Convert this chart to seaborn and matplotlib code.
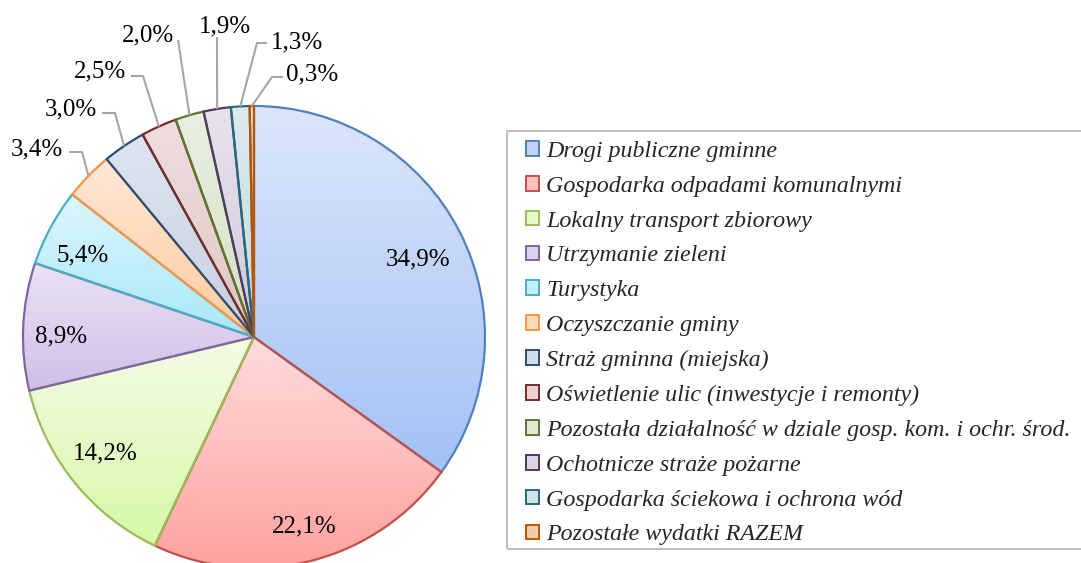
import numpy as np
import matplotlib
matplotlib.use("Agg")
import matplotlib.pyplot as plt
import seaborn as sns
from matplotlib.patches import Rectangle, Patch
from matplotlib.colors import to_rgb

# ---------------- data ----------------
categories = [
    "Drogi publiczne gminne",
    "Gospodarka odpadami komunalnymi",
    "Lokalny transport zbiorowy",
    "Utrzymanie zieleni",
    "Turystyka",
    "Oczyszczanie gminy",
    "Straż gminna (miejska)",
    "Oświetlenie ulic (inwestycje i remonty)",
    "Pozostała działalność w dziale gosp. kom. i ochr. środ.",
    "Ochotnicze straże pożarne",
    "Gospodarka ściekowa i ochrona wód",
    "Pozostałe wydatki RAZEM",
]
shares = [34.9, 22.1, 14.2, 8.9, 5.4, 3.4, 3.0, 2.5, 2.0, 1.9, 1.3, 0.3]

# ---------------- style ----------------
edge_colors = ["#4F81BD", "#C0504D", "#9BBB59", "#8064A2", "#4BACC6", "#F79646",
               "#2C4D75", "#772C2A", "#5F7530", "#4D3B62", "#276A7C", "#B65708"]
fill_top = ["#DCE6FB", "#FFDCDC", "#F4FCE6", "#EAE2F4", "#DDF6FC", "#FFE8D6",
            "#DFE5EF", "#EFDEDE", "#E9EFE1", "#E7E2EC", "#DCEAEE", "#F8DCC6"]
fill_bot = ["#A3C1F5", "#FFA19E", "#D6F8A6", "#D0BEE8", "#A6E8F9", "#FFCB9E",
            "#C6D0E1", "#E0C5C5", "#D3E1C3", "#D1C9DD", "#C2DBE2", "#EFBC95"]

sns.set_theme(style="white")
plt.rcParams['font.family'] = ['Liberation Serif', 'DejaVu Serif']

W, H = 1081, 563
fig = plt.figure(figsize=(W / 100, H / 100), dpi=100)
fig.patch.set_facecolor("white")
ax = fig.add_axes([0, 0, 1, 1])

cx, cy, R = 254, H - 337, 231

wedges, _ = ax.pie(shares, startangle=90, counterclock=False, center=(cx, cy),
                   radius=R, colors=["none"] * len(shares), frame=True,
                   wedgeprops=dict(linewidth=1.6))

g = np.linspace(0, 1, 256)[:, None, None]
for w, ec, top, bot in zip(wedges, edge_colors, fill_top, fill_bot):
    w.set_edgecolor(ec)
    w.set_zorder(3)
    ext = w.get_path().get_extents()
    arr = np.array(to_rgb(top))[None, None, :] * (1 - g) + np.array(to_rgb(bot))[None, None, :] * g
    im = ax.imshow(arr, extent=(ext.x0, ext.x1, ext.y0, ext.y1), origin="upper",
                   aspect="auto", interpolation="bilinear", zorder=2)
    im.set_clip_path(w)

# ---------------- value labels ----------------
def fmt(v):
    return f"{v:.1f}%".replace(".", ",")

# label centre positions (pixels, y down) -- layout only
label_pos = [(418, 257), (304, 524), (105, 451), (61, 334), (83, 253),
             (37, 147), (71, 107), (100, 69), (148, 33), (225, 24), (297, 40), (312, 72)]
# leader line waypoints for the outside labels (pixels, y down)
leader_pts = {
    5: [(69, 152), (82, 152)],
    6: [(102, 113), (115, 113)],
    7: [(131, 76), (143, 76)],
    8: [(178, 40)],
    9: [(217, 37)],
    10: [(267, 43), (257, 43)],
    11: [(283, 77), (272, 77)],
}

for i, (w, v) in enumerate(zip(wedges, shares)):
    x, y = label_pos[i]
    ax.text(x, H - y - 8.5, fmt(v), ha="center", va="baseline", fontsize=18,
            color="black", zorder=5)
    if i in leader_pts:
        mid = np.deg2rad((w.theta1 + w.theta2) / 2)
        rim = (cx + R * np.cos(mid), cy + R * np.sin(mid))
        pts = [(px, H - py) for px, py in leader_pts[i]] + [rim]
        xs, ys = zip(*pts)
        ax.plot(xs, ys, color="#A6A6A6", lw=1.5, zorder=4, solid_capstyle="butt")

# ---------------- legend ----------------
handles = [Patch(facecolor=tuple((np.array(to_rgb(t)) + np.array(to_rgb(b))) / 2),
                 edgecolor=ec, linewidth=1.4)
           for t, b, ec in zip(fill_top, fill_bot, edge_colors)]
leg = ax.legend(handles, categories, loc="upper left", bbox_to_anchor=(526, H - 141),
                bbox_transform=ax.transData, frameon=False, borderpad=0, borderaxespad=0,
                prop=dict(family=['Liberation Serif', 'DejaVu Serif'], style="italic", size=17.3),
                handlelength=0.56, handleheight=0.56, handletextpad=0.29, labelspacing=0.575)

ax.add_patch(Rectangle((507, H - 549), 700, 418, fill=False, edgecolor="#BFBFBF",
                       lw=1.5, zorder=1, clip_on=False))

ax.set_xlim(0, W)
ax.set_ylim(0, H)
ax.axis("off")

fig.savefig("out.png", dpi=100, facecolor="white")
